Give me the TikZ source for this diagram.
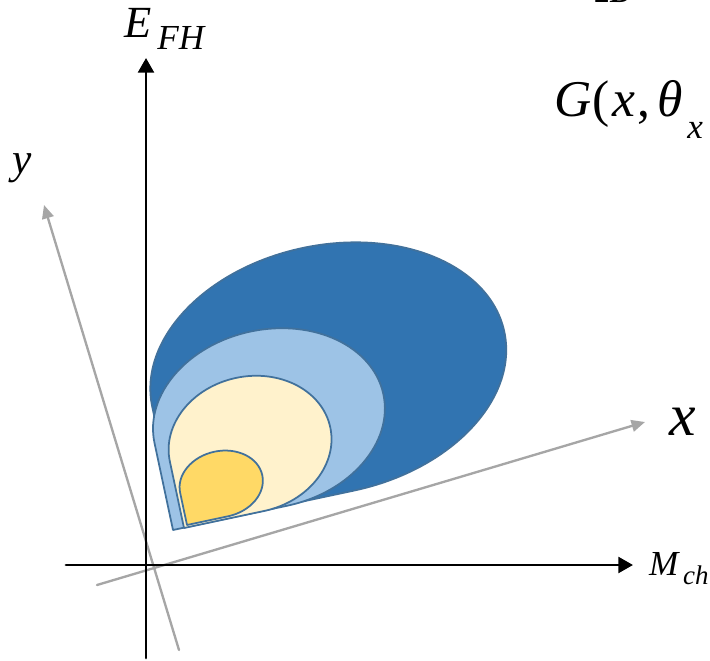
\documentclass[tikz,border=0pt]{standalone}
\usepackage{fontspec}
\setmainfont{Liberation Serif}
\usetikzlibrary{arrows.meta}

\begin{document}
\begin{tikzpicture}[x=0.03cm, y=0.03cm, line cap=round, line join=round,
    axis/.style={line width=2.4pt, -{Triangle[length=12.5pt, width=13.5pt]}},
    frame/.style={line width=2pt, draw=framegray, -{Triangle[length=11.5pt, width=10pt]}},
    blob/.style={draw=blobline, line width=1.5pt},
    lab/.style={inner sep=0pt, anchor=base west, font=\itshape}]
    \definecolor{framegray}{HTML}{A6A6A6}
    \definecolor{blobline}{HTML}{41719C}
    \definecolor{outerblue}{HTML}{3174B1}
    \definecolor{midblue}{HTML}{9DC3E6}
    \definecolor{cream}{HTML}{FFF2CC}
    \definecolor{gold}{HTML}{FFD966}

    % --- page, in pixels of the source (y up)
    \useasboundingbox (0,0) rectangle (710,660);
    \clip (0,0) rectangle (710,660);

    % --- the rotated frame (x, y), under everything
    \coordinate (xs) at (97,75);
    \coordinate (xe) at (645,238);
    \coordinate (ys) at (179,10);
    \coordinate (ye) at (44,455);
    \draw[frame] (xs) -- (xe);
    \draw[frame] (ys) -- (ye);

    % --- the level sets, largest first: tip, half-widths, fill
    \foreach \px/\py/\a/\b/\col in {
        178/132/180/124/outerblue,
        173/130/117/89/midblue,
        184/132/82/68/cream,
        187/135/42/33/gold} {
      \draw[blob, fill=\col, shift={(\px,\py)}, rotate=12]
        (0,0) -- (0,\b)
        arc[start angle=180, end angle=-90, x radius=\a, y radius=\b] -- cycle;
    }

    % --- the plane (M_ch, E_FH)
    \coordinate (hs) at (66,95);
    \coordinate (he) at (633,95);
    \coordinate (vs) at (146,2);
    \coordinate (ve) at (146,602);
    \draw[axis] (hs) -- (he);
    \draw[axis] (vs) -- (ve);

    % --- labels
    \node[lab] (efh) at (124,622) {\fontsize{38}{38}\selectfont E\kern 5pt\raisebox{-10pt}{\fontsize{30}{30}\selectfont FH}};
    \node[lab] (mch) at (649,85) {\fontsize{30}{30}\selectfont M\kern 4pt\raisebox{-8.5pt}{\fontsize{23}{23}\selectfont ch}};
    \node[lab] (ylab) at (12,487) {\fontsize{37}{37}\selectfont y};
    \node[lab] (xlab) at (669,225) {\fontsize{51}{51}\selectfont x};
    \node[lab] (glab) at (554,543) {\fontsize{44}{44}\selectfont G\kern 1pt{\upshape(}\kern 2ptx\kern 2pt{\upshape,}\kern 6ptθ\kern 4pt\raisebox{-18pt}{\fontsize{30}{30}\selectfont x}};
    \node[anchor=base west, inner sep=0pt] (top) at (594,657) {\fontsize{26}{26}\selectfont\bfseries 2D};
\end{tikzpicture}
\end{document}
